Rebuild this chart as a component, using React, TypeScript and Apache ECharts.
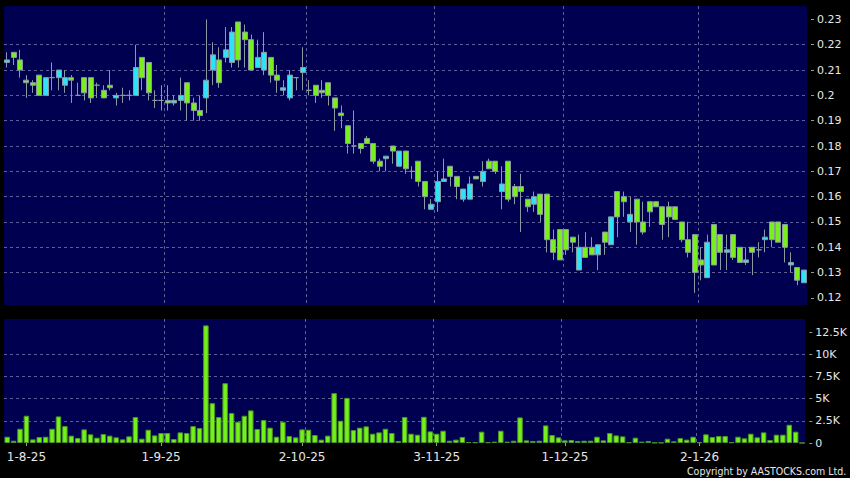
import React, { useEffect, useRef } from "react";
import * as echarts from "echarts";

const DATES = [
  "29-7-25","30-7-25","31-7-25",
  "1-8-25","4-8-25","5-8-25","6-8-25","7-8-25","8-8-25","11-8-25","12-8-25","13-8-25","14-8-25","15-8-25",
  "18-8-25","19-8-25","20-8-25","21-8-25","22-8-25","25-8-25","26-8-25","27-8-25","28-8-25","29-8-25",
  "1-9-25","2-9-25","3-9-25","4-9-25","5-9-25","8-9-25","9-9-25","10-9-25","11-9-25","12-9-25",
  "15-9-25","16-9-25","17-9-25","18-9-25","19-9-25","22-9-25","23-9-25","24-9-25","25-9-25","26-9-25",
  "29-9-25","30-9-25",
  "2-10-25","3-10-25","6-10-25","8-10-25","9-10-25","10-10-25","13-10-25","14-10-25","15-10-25","16-10-25",
  "17-10-25","20-10-25","21-10-25","22-10-25","23-10-25","24-10-25","27-10-25","28-10-25","29-10-25","30-10-25",
  "31-10-25",
  "3-11-25","4-11-25","5-11-25","6-11-25","7-11-25","10-11-25","11-11-25","12-11-25","13-11-25","14-11-25",
  "17-11-25","18-11-25","19-11-25","20-11-25","21-11-25","24-11-25","25-11-25","26-11-25","27-11-25","28-11-25",
  "1-12-25","2-12-25","3-12-25","4-12-25","5-12-25","8-12-25","9-12-25","10-12-25","11-12-25","12-12-25",
  "15-12-25","16-12-25","17-12-25","18-12-25","19-12-25","22-12-25","23-12-25","24-12-25","29-12-25","30-12-25",
  "31-12-25",
  "2-1-26","5-1-26","6-1-26","7-1-26","8-1-26","9-1-26","12-1-26","13-1-26","14-1-26","15-1-26","16-1-26",
  "19-1-26","20-1-26","21-1-26","22-1-26","23-1-26","26-1-26"
];

const OPEN = [
  0.213,0.217,0.214,0.206,0.205,0.208,0.200,0.207,0.207,0.204,
  0.207,0.200,0.207,0.207,0.204,0.202,0.204,0.199,0.200,0.200,
  0.200,0.215,0.213,0.198,0.198,0.198,0.197,0.198,0.205,0.197,
  0.194,0.199,0.210,0.214,0.215,0.213,0.229,0.225,0.222,0.211,
  0.210,0.215,0.208,0.202,0.199,0.207,0.209,0.202,0.204,0.202,
  0.205,0.199,0.193,0.188,0.180,0.181,0.183,0.181,0.174,0.175,
  0.180,0.172,0.178,0.170,0.174,0.166,0.155,0.158,0.166,0.172,
  0.168,0.159,0.159,0.168,0.166,0.174,0.174,0.162,0.174,0.164,
  0.164,0.159,0.157,0.161,0.161,0.143,0.147,0.147,0.144,0.131,
  0.140,0.140,0.137,0.146,0.141,0.162,0.160,0.150,0.159,0.150,
  0.158,0.158,0.156,0.156,0.156,0.150,0.143,0.145,0.135,0.128,
  0.149,0.145,0.138,0.145,0.140,0.134,0.140,0.139,0.143,0.150,
  0.150,0.149,0.133,0.132,0.126
];
const CLOSE = [
  0.214,0.215,0.210,0.205,0.204,0.200,0.207,0.207,0.210,0.207,
  0.206,0.200,0.201,0.199,0.204,0.199,0.203,0.200,0.200,0.200,
  0.211,0.207,0.201,0.198,0.198,0.197,0.198,0.200,0.197,0.194,
  0.192,0.206,0.216,0.205,0.218,0.225,0.214,0.222,0.210,0.215,
  0.217,0.208,0.206,0.203,0.208,0.207,0.211,0.202,0.200,0.201,
  0.200,0.195,0.192,0.181,0.180,0.179,0.181,0.174,0.172,0.176,
  0.178,0.178,0.171,0.170,0.166,0.160,0.157,0.166,0.167,0.168,
  0.164,0.163,0.165,0.167,0.170,0.171,0.170,0.165,0.159,0.160,
  0.162,0.156,0.160,0.153,0.143,0.138,0.135,0.139,0.142,0.140,
  0.136,0.137,0.141,0.142,0.152,0.152,0.158,0.153,0.150,0.146,
  0.154,0.156,0.149,0.152,0.151,0.143,0.138,0.130,0.133,0.142,
  0.133,0.138,0.139,0.136,0.134,0.135,0.138,0.139,0.144,0.143,
  0.142,0.140,0.134,0.127,0.131
];
const LOW = [
  0.211,0.212,0.207,0.199,0.201,0.200,0.200,0.202,0.202,0.201,
  0.197,0.200,0.198,0.197,0.199,0.199,0.202,0.196,0.197,0.198,
  0.200,0.202,0.198,0.195,0.194,0.194,0.196,0.194,0.190,0.190,
  0.190,0.193,0.204,0.203,0.213,0.211,0.211,0.211,0.210,0.211,
  0.208,0.205,0.201,0.200,0.198,0.202,0.202,0.200,0.197,0.199,
  0.196,0.186,0.187,0.177,0.177,0.177,0.181,0.173,0.170,0.170,
  0.173,0.172,0.169,0.167,0.164,0.155,0.155,0.154,0.166,0.164,
  0.159,0.158,0.159,0.167,0.164,0.171,0.169,0.155,0.158,0.157,
  0.146,0.154,0.154,0.150,0.138,0.135,0.135,0.137,0.138,0.131,
  0.136,0.137,0.131,0.137,0.141,0.144,0.152,0.146,0.141,0.145,
  0.148,0.156,0.143,0.144,0.151,0.142,0.136,0.122,0.127,0.128,
  0.133,0.131,0.131,0.135,0.134,0.133,0.129,0.136,0.138,0.140,
  0.142,0.134,0.130,0.125,0.126
];
const HIGH = [
  0.217,0.217,0.218,0.208,0.206,0.208,0.207,0.213,0.210,0.210,
  0.208,0.205,0.207,0.207,0.205,0.204,0.210,0.201,0.203,0.202,
  0.220,0.215,0.213,0.202,0.204,0.204,0.200,0.207,0.205,0.199,
  0.200,0.230,0.221,0.219,0.227,0.227,0.229,0.228,0.224,0.222,
  0.225,0.215,0.212,0.206,0.210,0.207,0.219,0.206,0.204,0.206,
  0.205,0.199,0.196,0.188,0.194,0.181,0.184,0.181,0.175,0.176,
  0.180,0.178,0.178,0.172,0.174,0.166,0.159,0.170,0.175,0.172,
  0.168,0.163,0.168,0.168,0.174,0.175,0.174,0.172,0.174,0.165,
  0.169,0.159,0.162,0.161,0.161,0.147,0.147,0.147,0.144,0.145,
  0.146,0.144,0.141,0.146,0.152,0.162,0.162,0.160,0.159,0.158,
  0.158,0.158,0.156,0.158,0.156,0.150,0.150,0.145,0.140,0.145,
  0.149,0.145,0.145,0.145,0.140,0.140,0.140,0.142,0.147,0.150,
  0.150,0.149,0.138,0.132,0.131
];

const VOLUME = [
  710,260,1610,3080,410,680,710,1610,3000,1910,
  830,560,1540,980,600,1010,830,640,410,750,
  2930,490,1500,860,1130,1130,450,1200,1130,1910,
  1690,13280,4500,2930,6750,3380,2400,3080,3680,1580,
  2590,1730,710,2400,790,640,1540,1500,900,380,
  830,5630,2510,5100,1460,1730,1880,1050,1200,1610,
  1130,230,2930,1050,940,2960,1310,1050,1390,260,
  380,680,110,80,1280,80,150,1390,150,260,
  2890,300,230,260,1990,900,640,300,340,230,
  260,260,710,300,1130,860,750,80,600,150,
  230,40,40,490,190,560,380,710,80,980,
  680,790,790,80,710,530,1050,640,1200,340,
  940,940,2060,1280,0
];

const PRICE_TICKS = [0.12, 0.13, 0.14, 0.15, 0.16, 0.17, 0.18, 0.19, 0.2, 0.21, 0.22, 0.23];
const VOLUME_TICKS = [0, 2500, 5000, 7500, 10000, 12500];
const LABEL_DATES = ["1-8-25", "1-9-25", "2-10-25", "3-11-25", "1-12-25", "2-1-26"];
const GRID_DATES = ["4-8-25", "2-9-25", "3-10-25", "3-11-25", "1-12-25", "2-1-26"];

const PANEL = "#000050";
const GRID_LINE = "#5e5e98";
const TEXT = "#e6e6e6";
const UP = "#2fe2f6";
const DOWN = "#79f01c";
const EDGE = "#8a9aa2";

export default function App() {
  const ref = useRef<HTMLDivElement>(null);

  useEffect(() => {
    document.body.style.margin = "0";
    document.body.style.background = "#000";
    if (!ref.current) return;
    const chart = echarts.init(ref.current, undefined, { renderer: "svg" });

    const ohlc = OPEN.map((o, i) => [o, CLOSE[i], LOW[i], HIGH[i]]);
    const labelFn = (_i: number, v: string) => LABEL_DATES.includes(v);
    const gridFn = (_i: number, v: string) => GRID_DATES.includes(v);
    const splitLine = {
      show: true,
      interval: gridFn,
      showMinLine: false,
      showMaxLine: false,
      lineStyle: { color: GRID_LINE, type: [3, 3], width: 1 },
    };
    const hSplit = {
      show: true,
      showMinLine: false,
      showMaxLine: false,
      lineStyle: { color: GRID_LINE, type: [3, 3], width: 1 },
    };

    chart.setOption({
      animation: false,
      backgroundColor: "#000000",
      textStyle: { fontFamily: "DejaVu Sans" },
      grid: [
        { left: 4, right: 43, top: 6, height: 299, show: true, backgroundColor: PANEL, borderWidth: 0 },
        { left: 4, right: 43, top: 319, height: 124, show: true, backgroundColor: PANEL, borderWidth: 0 },
      ],
      xAxis: [
        {
          type: "category",
          gridIndex: 0,
          data: DATES,
          boundaryGap: true,
          axisLine: { show: false },
          axisTick: { show: false },
          axisLabel: { show: false },
          splitLine,
        },
        {
          type: "category",
          gridIndex: 1,
          data: DATES,
          boundaryGap: true,
          offset: 3,
          axisLine: { show: false },
          axisTick: {
            show: true,
            alignWithLabel: true,
            interval: labelFn,
            length: 3,
            lineStyle: { color: "#9a9a9a" },
          },
          axisLabel: {
            interval: labelFn,
            color: TEXT,
            fontSize: 12,
            fontFamily: "DejaVu Sans",
            margin: 5,
          },
          splitLine,
        },
      ],
      yAxis: [
        {
          type: "value",
          gridIndex: 0,
          position: "right",
          min: 0.1172,
          max: 0.2353,
          offset: 4,
          axisLine: { show: false },
          axisTick: { show: true, length: 3, customValues: PRICE_TICKS, lineStyle: { color: "#9a9a9a" } },
          axisLabel: {
            customValues: PRICE_TICKS,
            color: TEXT,
            fontSize: 11,
            fontFamily: "DejaVu Sans",
            margin: 6,
            formatter: (v: number) => String(+v.toFixed(2)),
          },
          splitLine: hSplit,
        },
        {
          type: "value",
          gridIndex: 1,
          position: "right",
          min: 0,
          max: 14000,
          offset: 4,
          axisLine: { show: false },
          axisTick: { show: true, length: 3, customValues: VOLUME_TICKS, lineStyle: { color: "#9a9a9a" } },
          axisLabel: {
            customValues: VOLUME_TICKS,
            color: TEXT,
            fontSize: 11,
            fontFamily: "DejaVu Sans",
            margin: 6,
            formatter: (v: number) => (v === 0 ? "0" : v / 1000 + "K"),
          },
          splitLine: hSplit,
        },
      ],
      series: [
        {
          type: "candlestick",
          xAxisIndex: 0,
          yAxisIndex: 0,
          data: ohlc,
          barWidth: 5.5,
          itemStyle: {
            color: UP,
            color0: DOWN,
            borderColor: EDGE,
            borderColor0: EDGE,
            borderWidth: 1,
          },
        },
        {
          type: "bar",
          xAxisIndex: 1,
          yAxisIndex: 1,
          data: VOLUME,
          barWidth: 5.5,
          itemStyle: { color: "#74f01a", borderColor: "#4a9620", borderWidth: 1 },
        },
      ],
      graphic: [
        {
          type: "text",
          x: 687,
          y: 465,
          scaleX: 0.86,
          style: {
            text: "Copyright by AASTOCKS.com Ltd.",
            fill: TEXT,
            font: '11px "DejaVu Sans"',
          },
        },
      ],
    });

    return () => chart.dispose();
  }, []);

  return <div ref={ref} style={{ width: 850, height: 478, background: "#000" }} />;
}
